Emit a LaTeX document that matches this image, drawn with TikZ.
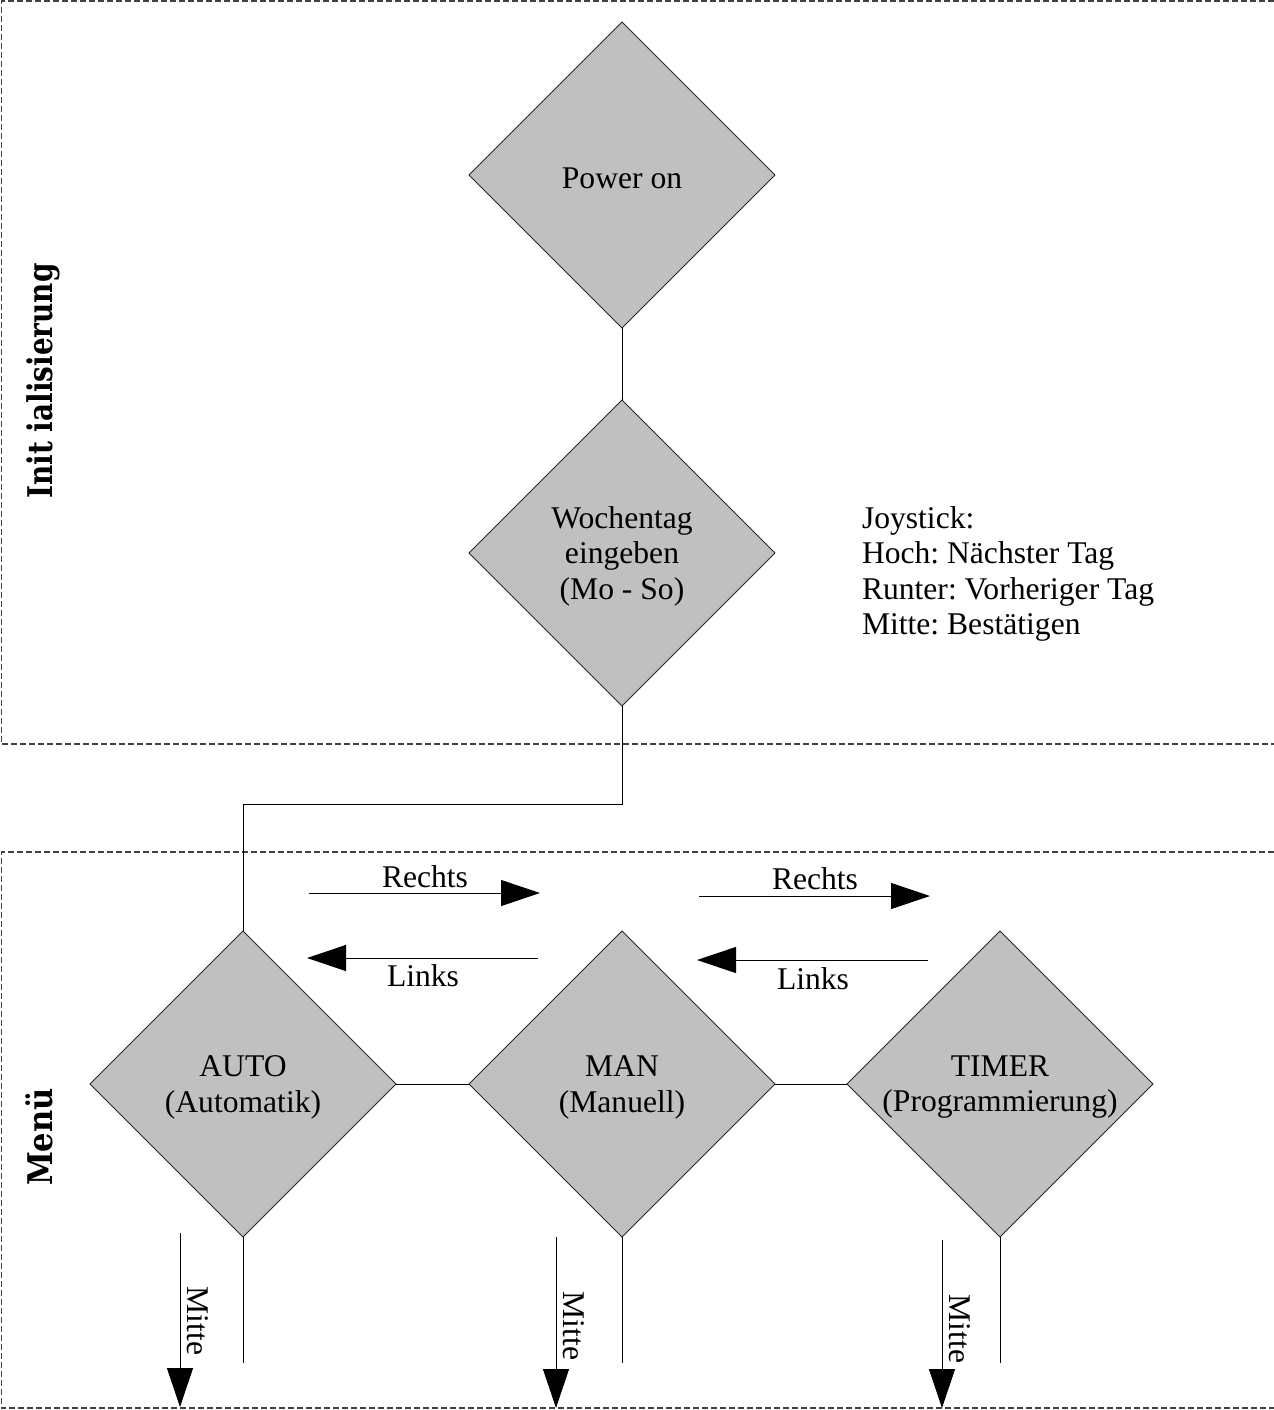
\documentclass[tikz,border=0pt]{standalone}
\usepackage{fontspec}
\setmainfont{Liberation Serif}
\newfontfamily\titlefont{DejaVu Serif}
\usetikzlibrary{shapes.geometric,arrows.meta}
\definecolor{boxgray}{HTML}{C0C0C0}
\definecolor{framegray}{HTML}{404040}
\frenchspacing
\begin{document}
\begin{tikzpicture}[x=0.5pt,y=-0.5pt,
  every node/.style={font=\fontsize{15.8}{17.8}\selectfont, inner sep=0pt, outer sep=0pt},
  dia/.style={diamond, draw=black!85, line width=0.5pt, fill=boxgray,
    minimum width=153pt, minimum height=153pt, aspect=1},
  inlabel/.style={align=center, yshift=-1.6pt},
  frame/.style={draw=framegray, line width=0.6pt, dash pattern=on 3pt off 1.5pt},
  conn/.style={draw=black, line width=0.5pt},
  arr/.style={draw=black, line width=0.5pt, -{Triangle[length=19.5pt,width=13pt]}},
  titletext/.style={font=\titlefont\bfseries\fontsize{17}{20}\selectfont},
]
\useasboundingbox (0,0) rectangle (1274,1410);

% frames
\draw[frame] (1274,1) -- (1.5,1) -- (1.5,744) -- (1274,744);
\draw[frame] (1274,852) -- (1.5,852) -- (1.5,1408) -- (1274,1408);

% section titles
\node[titletext, rotate=90, anchor=base] (tinit) at (53,381) {\scalebox{0.82}[1]{Init ialisierung}};
\node[titletext, rotate=90, anchor=base] (tmenu) at (53,1137) {\scalebox{0.9}[1]{Menü}};

% diamonds
\node[dia, label={[inlabel]center:{Power on}}] (P) at (622,175) {};
\node[dia, label={[inlabel]center:{Wochentag\\eingeben\\(Mo - So)}}] (W) at (622,553) {};
\node[dia, label={[inlabel]center:{AUTO\\(Automatik)}}] (A) at (243,1084) {};
\node[dia, label={[inlabel]center:{MAN\\(Manuell)}}] (M) at (622,1084) {};
\node[dia, label={[inlabel]center:{TIMER\\(Programmierung)}}] (T) at (1000,1084) {};

% joystick help
\node[align=left, anchor=west, yshift=-1.5pt] (joy) at (862,571)
  {Joystick:\\Hoch: Nächster Tag\\Runter: Vorheriger Tag\\Mitte: Bestätigen};

% connectors
\draw[conn] (P.south) -- (W.north);
\draw[conn] (W.south) -- ++(0,98) -| (A.north);
\draw[conn] (A.east) -- (M.west);
\draw[conn] (M.east) -- (T.west);
\draw[conn] (A.south) -- ++(0,126);
\draw[conn] (M.south) -- ++(0,126);
\draw[conn] (T.south) -- ++(0,126);

% Rechts / Links arrows
\coordinate (r1s) at (309,893); \coordinate (r1e) at (540,893);
\coordinate (l1s) at (538,958); \coordinate (l1e) at (307,958);
\coordinate (r2s) at (699,896); \coordinate (r2e) at (930,896);
\coordinate (l2s) at (928,960); \coordinate (l2e) at (697,960);
\draw[arr] (r1s) -- (r1e);
\draw[arr] (l1s) -- (l1e);
\draw[arr] (r2s) -- (r2e);
\draw[arr] (l2s) -- (l2e);
\node (tr1) at (425,877) {Rechts};
\node (tl1) at (423,976) {Links};
\node (tr2) at (815,879) {Rechts};
\node (tl2) at (813,979) {Links};

% Mitte arrows
\coordinate (m1s) at (180,1233); \coordinate (m1e) at (180,1407);
\coordinate (m2s) at (556,1237); \coordinate (m2e) at (556,1408);
\coordinate (m3s) at (942,1240); \coordinate (m3e) at (942,1408);
\draw[arr] (m1s) -- (m1e);
\draw[arr] (m2s) -- (m2e);
\draw[arr] (m3s) -- (m3e);
\node[rotate=-90, anchor=base] (tm1) at (187,1321) {Mitte};
\node[rotate=-90, anchor=base] (tm2) at (563,1326) {Mitte};
\node[rotate=-90, anchor=base] (tm3) at (949,1329) {Mitte};
\end{tikzpicture}
\end{document}
